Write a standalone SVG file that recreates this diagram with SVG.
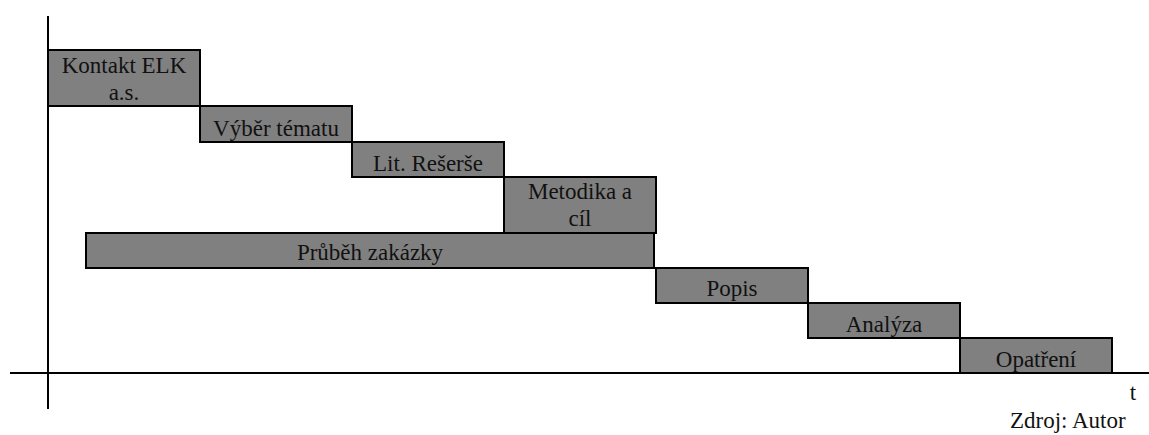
<svg xmlns="http://www.w3.org/2000/svg" width="1149" height="435" viewBox="0 0 1149 435">
<style>
.b{fill:#808080;stroke:#000;stroke-width:2}
.t{text-anchor:middle}
.ax{stroke:#000;stroke-width:2;fill:none}
</style>
<rect width="1149" height="435" fill="#fff"/>
<g id="axes">
<line class="ax" x1="48" y1="16" x2="48" y2="409"/>
<line class="ax" x1="10" y1="373" x2="1149" y2="373"/>
</g>
<g font-family="Liberation Serif, DejaVu Serif, serif" font-size="23" fill="#111">
<g id="n1"><rect class="b" x="48" y="50" width="152" height="56"/><text class="t" x="124" y="73">Kontakt ELK</text><text class="t" x="124" y="100">a.s.</text></g>
<g id="n2"><rect class="b" x="200" y="106" width="152" height="36"/><text class="t" x="276" y="136">Výběr tématu</text></g>
<g id="n3"><rect class="b" x="352" y="142" width="152" height="35"/><text class="t" x="428" y="171">Lit. Rešerše</text></g>
<g id="n4"><rect class="b" x="504" y="177" width="152" height="56"/><text class="t" x="580" y="199">Metodika a</text><text class="t" x="580" y="226">cíl</text></g>
<g id="n5"><rect class="b" x="86" y="233" width="568" height="35"/><text class="t" x="370" y="260">Průběh zakázky</text></g>
<g id="n6"><rect class="b" x="656" y="268" width="152" height="35"/><text class="t" x="732" y="296">Popis</text></g>
<g id="n7"><rect class="b" x="808" y="303" width="152" height="35"/><text class="t" x="884" y="332">Analýza</text></g>
<g id="n8"><rect class="b" x="960" y="338" width="152" height="35"/><text class="t" x="1036" y="367">Opatření</text></g>
<g id="labels">
<text class="t" x="1133" y="400">t</text>
<text x="1010" y="428">Zdroj: Autor</text>
</g>
</g>
</svg>
